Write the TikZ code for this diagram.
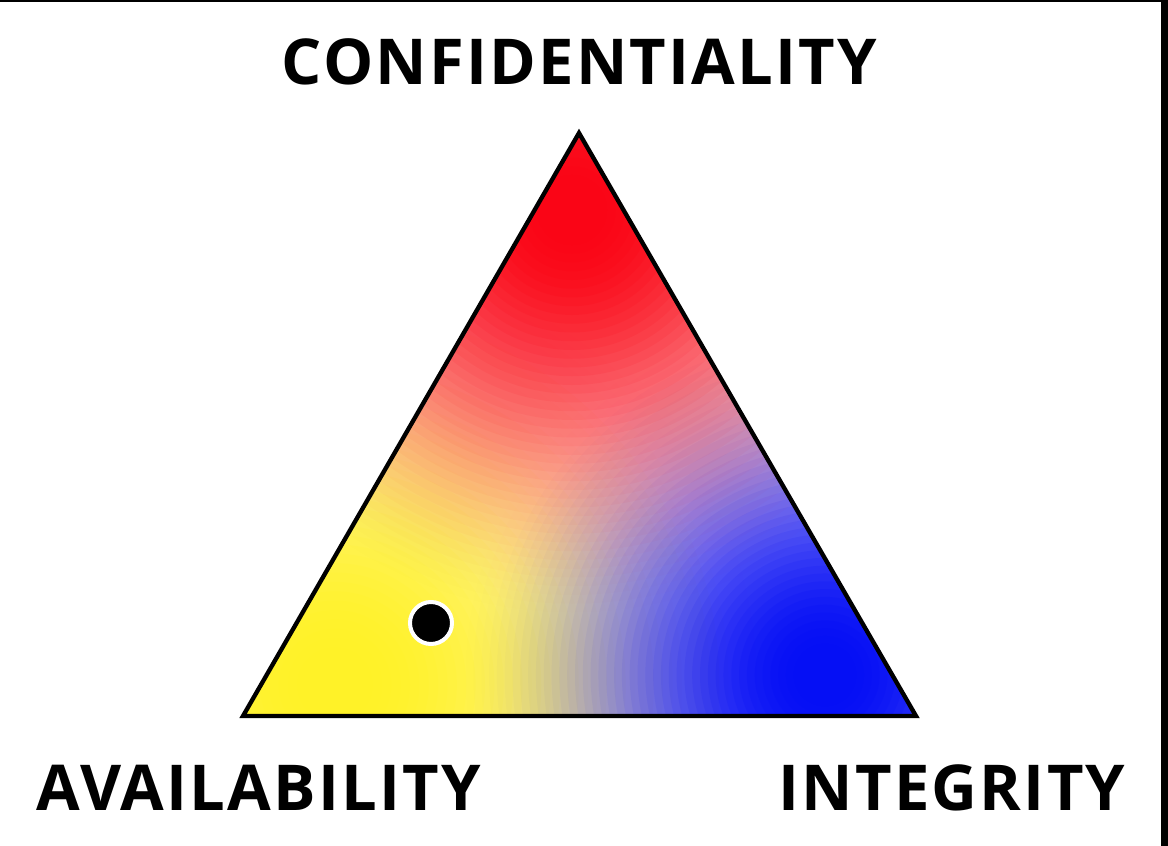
\documentclass[tikz,border=0pt]{standalone}
\usepackage{fontspec}
\setmainfont{Open Sans}[LetterSpace=3.5]
\definecolor{cred}{RGB}{250,5,22}
\definecolor{cyel}{RGB}{255,242,40}
\definecolor{cblue}{RGB}{5,15,245}
\newcommand\softblob[4]{%
  \foreach \i in {1,...,48}{%
    \pgfmathsetmacro\rr{#4*(1-(\i-1)/48)}%
    \pgfmathsetmacro\rp{#4*(1-(\i-2)/48)}%
    \pgfmathsetmacro\xa{max(0,min(1,(\rr/#4-0.05)/0.95))}%
    \pgfmathsetmacro\xb{max(0,min(1,(\rp/#4-0.05)/0.95))}%
    \pgfmathsetmacro\Tcur{min(0.995,1-(3*\xa*\xa-2*\xa*\xa*\xa))}%
    \pgfmathsetmacro\Tprev{min(0.995,1-(3*\xb*\xb-2*\xb*\xb*\xb))}%
    \pgfmathsetmacro\al{max(0,1-(1-\Tcur)/(1-\Tprev))}%
    \fill[#1, opacity=\al] (#2,#3) circle (\rr);
  }}
\tikzset{
  label/.style={font=\fontsize{54}{60}\selectfont\bfseries, anchor=base, inner sep=0pt},
}
\begin{document}
\begin{tikzpicture}[x=0.03cm, y=-0.03cm]
\useasboundingbox (0,0) rectangle (1168,846);
\fill[white] (0,0) rectangle (1168,846);
% frame
\fill[black] (0,0) rectangle (1168,2.5);
\fill[black] (1161,0) rectangle (1168,846);
% triangle
\coordinate (C) at (579,133);
\coordinate (A) at (243,716);
\coordinate (I) at (916,716);
\begin{scope}
\clip (C) -- (A) -- (I) -- cycle;
\fill[white] (C) -- (A) -- (I) -- cycle;
\softblob{cyel}{335}{685}{450}
\softblob{cblue}{825}{675}{375}
\softblob{cred}{572}{210}{420}
\end{scope}
\draw[line width=0.13cm, line join=miter] (C) -- (A) -- (I) -- cycle;
% dot
\node[circle, fill=black, draw=white, line width=0.12cm, minimum size=1.26cm, inner sep=0pt] (dot) at (431,623) {};
% labels
\node[label] (conf) at (579.5,85) {CONFIDENTIALITY};
\node[label] (avail) at (259,810) {AVAILABILITY};
\node[label] (integ) at (952,810) {INTEGRITY};
\end{tikzpicture}
\end{document}
